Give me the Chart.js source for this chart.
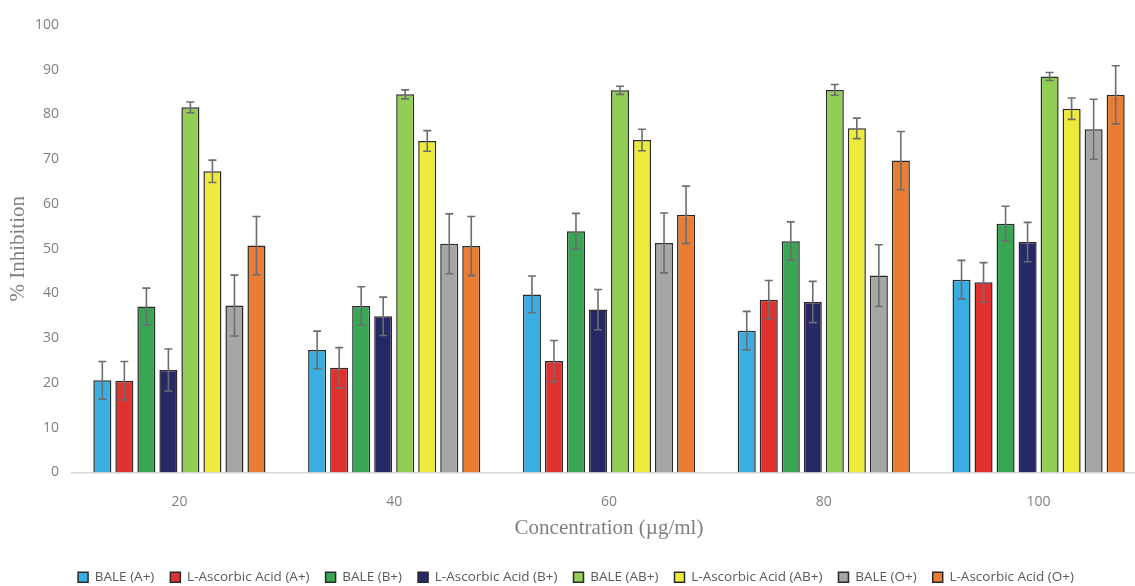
<!DOCTYPE html>
<html>
<head>
<meta charset="utf-8">
<script src="https://cdn.jsdelivr.net/npm/chart.js@4.4.1/dist/chart.umd.min.js"></script>
<style>
  html, body { margin: 0; padding: 0; background: #fff; overflow: hidden; }
  #wrap { width: 1150px; height: 594px; }
</style>
</head>
<body>
<div id="wrap"><canvas id="chart"></canvas></div>
<script>
const concentrations = ["20", "40", "60", "80", "100"];

const seriesNames = [
    "BALE (A+)", "L-Ascorbic Acid (A+)", "BALE (B+)", "L-Ascorbic Acid (B+)",
    "BALE (AB+)", "L-Ascorbic Acid (AB+)", "BALE (O+)", "L-Ascorbic Acid (O+)"
];
const seriesColors = [
    "#3aaee0", "#e0312f", "#38a653", "#262966",
    "#92cd55", "#eeea3a", "#a5a7a7", "#ea7d33"
];

// mean % inhibition per series
const baleA = [20.6, 27.4, 39.8, 31.7, 43.1];
const ascA = [20.5, 23.4, 24.9, 38.6, 42.5];
const baleB = [37.1, 37.2, 53.9, 51.7, 55.6];
const ascB = [22.9, 34.9, 36.4, 38.1, 51.5];
const baleAB = [81.6, 84.5, 85.4, 85.5, 88.5];
const ascAB = [67.3, 74.1, 74.3, 76.9, 81.3];
const baleO = [37.3, 51.1, 51.3, 44.0, 76.7];
const ascO = [50.7, 50.6, 57.6, 69.7, 84.4];

// error bar half-lengths
const baleAErr = [4.2, 4.2, 4.1, 4.3, 4.3];
const ascAErr = [4.3, 4.5, 4.6, 4.3, 4.4];
const baleBErr = [4.1, 4.3, 4.0, 4.3, 3.9];
const ascBErr = [4.7, 4.3, 4.5, 4.6, 4.4];
const baleABErr = [1.2, 1.0, 0.9, 1.2, 0.9];
const ascABErr = [2.5, 2.3, 2.4, 2.3, 2.4];
const baleOErr = [6.8, 6.7, 6.7, 6.9, 6.7];
const ascOErr = [6.5, 6.6, 6.4, 6.5, 6.5];

const yTicks = [0, 10, 20, 30, 40, 50, 60, 70, 80, 90, 100];

const values = [baleA, ascA, baleB, ascB, baleAB, ascAB, baleO, ascO];
const errors = [baleAErr, ascAErr, baleBErr, ascBErr, baleABErr, ascABErr, baleOErr, ascOErr];

const sansFont = "'Open Sans', 'Liberation Sans', sans-serif";
const serifFont = "'Liberation Serif', 'DejaVu Serif', serif";

const errorBars = {
    id: "errorBars",
    afterDatasetsDraw(chart) {
        const ctx = chart.ctx;
        const yScale = chart.scales.y;
        ctx.save();
        ctx.strokeStyle = "#6b6e70";
        ctx.lineWidth = 1.6;
        chart.data.datasets.forEach((ds, i) => {
            const meta = chart.getDatasetMeta(i);
            meta.data.forEach((bar, j) => {
                const v = ds.data[j];
                const e = errors[i][j];
                const top = yScale.getPixelForValue(v + e);
                const bot = yScale.getPixelForValue(v - e);
                const x = bar.x;
                ctx.beginPath();
                ctx.moveTo(x, top);
                ctx.lineTo(x, bot);
                ctx.moveTo(x - 4, top);
                ctx.lineTo(x + 4, top);
                ctx.moveTo(x - 4, bot);
                ctx.lineTo(x + 4, bot);
                ctx.stroke();
            });
        });
        ctx.restore();
    }
};

new Chart(document.getElementById("chart"), {
    type: "bar",
    data: {
        labels: concentrations,
        datasets: seriesNames.map((name, i) => ({
            label: name,
            data: values[i],
            backgroundColor: seriesColors[i],
            borderColor: "#2a2a2a",
            borderWidth: 1.5,
            categoryPercentage: 0.82,
            barPercentage: 0.82,
        }))
    },
    options: {
        responsive: true,
        maintainAspectRatio: false,
        animation: false,
        layout: { padding: { top: 25, right: 4, left: 6, bottom: 0 } },
        plugins: {
            tooltip: { enabled: false },
            legend: {
                position: "bottom",
                labels: {
                    boxWidth: 10,
                    boxHeight: 10,
                    padding: 16,
                    color: "#595959",
                    font: { family: sansFont, size: 13.5 },
                    generateLabels(chart) {
                        return chart.data.datasets.map((ds, i) => ({
                            text: ds.label,
                            fillStyle: ds.backgroundColor,
                            strokeStyle: "#2a2a2a",
                            lineWidth: 1.5,
                            datasetIndex: i,
                            fontColor: "#595959",
                        }));
                    }
                }
            }
        },
        scales: {
            x: {
                afterFit(scale) { scale.height = 82; },
                grid: { display: false, drawTicks: false },
                border: { color: "#d9d9d9", width: 1.5 },
                ticks: {
                    color: "#7f7f7f",
                    font: { family: sansFont, size: 14 },
                    padding: 21
                },
                title: {
                    display: true,
                    text: "Concentration (µg/ml)",
                    color: "#7f7f7f",
                    font: { family: serifFont, size: 21 },
                    padding: { top: 0, bottom: 13 }
                }
            },
            y: {
                min: 0,
                max: 100,
                afterBuildTicks(scale) {
                    scale.ticks = yTicks.map((v) => ({ value: v }));
                },
                afterFit(scale) { scale.width = 66; },
                grid: { display: false, drawTicks: false },
                border: { display: false },
                ticks: {
                    color: "#7f7f7f",
                    font: { family: sansFont, size: 14 },
                    padding: 13
                },
                title: {
                    display: true,
                    text: "% Inhibition",
                    color: "#7f7f7f",
                    font: { family: serifFont, size: 21 },
                    padding: { top: 0, bottom: 4 }
                }
            }
        }
    },
    plugins: [errorBars]
});
</script>
</body>
</html>
